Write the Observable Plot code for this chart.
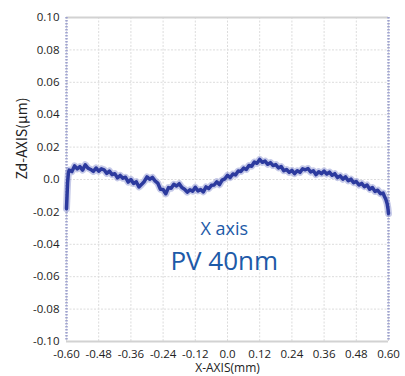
<!DOCTYPE html>
<html>
<head>
<meta charset="utf-8">
<script src="https://cdn.jsdelivr.net/npm/d3@7"></script>
<script src="https://cdn.jsdelivr.net/npm/@observablehq/plot@0.6"></script>
<style>
  html, body { margin: 0; padding: 0; background: #fff; }
  #chart { width: 405px; height: 376px; }
</style>
</head>
<body>
<div id="chart"></div>
<script>
// ---- data ----
const xPositions = [
  -0.600, -0.598, -0.596, -0.593,
  -0.59, -0.58, -0.57, -0.56, -0.55, -0.54, -0.53, -0.52, -0.51, -0.50,
  -0.49, -0.48, -0.47, -0.46, -0.45, -0.44, -0.43, -0.42, -0.41, -0.40,
  -0.39, -0.38, -0.37, -0.36, -0.35, -0.34, -0.33, -0.32, -0.31, -0.30,
  -0.29, -0.28, -0.27, -0.26, -0.25, -0.24, -0.23, -0.22, -0.21, -0.20,
  -0.19, -0.18, -0.17, -0.16, -0.15, -0.14, -0.13, -0.12, -0.11, -0.10,
  -0.09, -0.08, -0.07, -0.06, -0.05, -0.04, -0.03, -0.02, -0.01, 0.00,
  0.01, 0.02, 0.03, 0.04, 0.05, 0.06, 0.07, 0.08, 0.09, 0.10,
  0.11, 0.12, 0.13, 0.14, 0.15, 0.16, 0.17, 0.18, 0.19, 0.20,
  0.21, 0.22, 0.23, 0.24, 0.25, 0.26, 0.27, 0.28, 0.29, 0.30,
  0.31, 0.32, 0.33, 0.34, 0.35, 0.36, 0.37, 0.38, 0.39, 0.40,
  0.41, 0.42, 0.43, 0.44, 0.45, 0.46, 0.47, 0.48, 0.49, 0.50,
  0.51, 0.52, 0.53, 0.54, 0.55, 0.56, 0.57, 0.58, 0.585, 0.59,
  0.595, 0.598, 0.600
];
const zdValues = [
  -0.018, -0.010, -0.002, 0.004,
  0.0058, 0.0049, 0.0084, 0.0066, 0.0079, 0.0058, 0.0091, 0.0070, 0.0062, 0.0050,
  0.0071, 0.0052, 0.0066, 0.0060, 0.0038, 0.0052, 0.0030, 0.0036, 0.0010, 0.0025,
  0.0008, 0.0014, -0.0016, 0.0000, -0.0024, -0.0014, -0.0046, -0.0030, -0.0012, 0.0016,
  0.0002, 0.0013, -0.0008, -0.0022, -0.0060, -0.0062, -0.0088, -0.0050, -0.0054, -0.0030,
  -0.0040, -0.0026, -0.0050, -0.0060, -0.0078, -0.0064, -0.0072, -0.0048, -0.0070, -0.0062,
  -0.0076, -0.0046, -0.0056, -0.0036, -0.0034, -0.0014, -0.0032, -0.0004, 0.0004, 0.0026,
  0.0012, 0.0034, 0.0028, 0.0052, 0.0050, 0.0070, 0.0062, 0.0086, 0.0082, 0.0108,
  0.0100, 0.0124, 0.0106, 0.0114, 0.0094, 0.0104, 0.0086, 0.0092, 0.0072, 0.0080,
  0.0054, 0.0062, 0.0044, 0.0056, 0.0036, 0.0054, 0.0044, 0.0066, 0.0060, 0.0068,
  0.0046, 0.0054, 0.0030, 0.0048, 0.0036, 0.0052, 0.0034, 0.0046, 0.0026, 0.0036,
  0.0012, 0.0022, 0.0002, 0.0016, -0.0008, 0.0002, -0.0020, -0.0012, -0.0034, -0.0024,
  -0.0044, -0.0034, -0.0060, -0.0050, -0.0074, -0.0066, -0.0088, -0.0084, -0.0105, -0.0122,
  -0.015, -0.018, -0.021
];
const xTicks = [-0.60, -0.48, -0.36, -0.24, -0.12, 0.0, 0.12, 0.24, 0.36, 0.48, 0.60];
const yTicks = [0.10, 0.08, 0.06, 0.04, 0.02, 0.0, -0.02, -0.04, -0.06, -0.08, -0.10];
const xDomain = [-0.60, 0.60];
const yDomain = [-0.10, 0.10];
const xLabel = "X-AXIS(mm)";
const yLabel = "Zd-AXIS(μm)";
const noteTexts = ["X axis", "PV 40nm"];
const noteX = [-0.012, -0.012];
const noteY = [-0.031, -0.051];
const noteSizes = [18, 26];

// ---- build ----
const profile = xPositions.map((x, i) => ({x, z: zdValues[i]}));
const notes = noteTexts.map((t, i) => ({t, x: noteX[i], y: noteY[i], s: noteSizes[i]}));
const fmt = d => (d === 0 ? "0.0" : d.toFixed(2));

const chart = Plot.plot({
  width: 405,
  height: 376,
  marginLeft: 66,
  marginRight: 17,
  marginTop: 17,
  marginBottom: 35,
  style: {fontFamily: "'Open Sans', sans-serif", fontSize: "11.5px", color: "#222", background: "#fff"},
  x: {domain: xDomain, ticks: xTicks, tickFormat: fmt},
  y: {domain: yDomain, ticks: yTicks, tickFormat: fmt},
  marks: [
    Plot.gridX(xTicks, {stroke: "#dcdcdc", strokeOpacity: 1, strokeDasharray: "2,1.5"}),
    Plot.gridY(yTicks, {stroke: "#dcdcdc", strokeOpacity: 1, strokeDasharray: "2,1.5"}),
    Plot.ruleY(yDomain, {stroke: "#d2d2d2", strokeWidth: 2}),
    Plot.ruleX(xDomain, {stroke: "#9ea2cf", strokeWidth: 2.5, strokeDasharray: "1.5,1.5"}),
    Plot.axisX(xTicks, {tickSize: 0, tickPadding: 8, tickFormat: fmt, label: null, fontSize: 11.5}),
    Plot.axisY(yTicks, {tickSize: 0, tickPadding: 7, tickFormat: fmt, label: null, fontSize: 11.5}),
    Plot.text([xLabel], {frameAnchor: "bottom", dy: 27, text: d => d, lineAnchor: "middle", fontSize: 12, fill: "#222"}),
    Plot.text([yLabel], {frameAnchor: "left", dx: -44, rotate: -90, text: d => d, lineAnchor: "middle", fontSize: 14, fill: "#222", fontFamily: "'Noto Sans CJK JP', 'Open Sans', sans-serif"}),
    Plot.line(profile, {x: "x", y: "z", stroke: "#7f87cc", strokeWidth: 7, strokeOpacity: 0.45}),
    Plot.line(profile, {x: "x", y: "z", stroke: "#2c3a9e", strokeWidth: 3.5}),
    Plot.text(notes, {x: "x", y: "y", text: "t", fontSize: "s", fill: "#1d5aa8", textAnchor: "middle", fontFamily: "'Open Sans', sans-serif"})
  ]
});
document.getElementById("chart").appendChild(chart);
</script>
</body>
</html>
